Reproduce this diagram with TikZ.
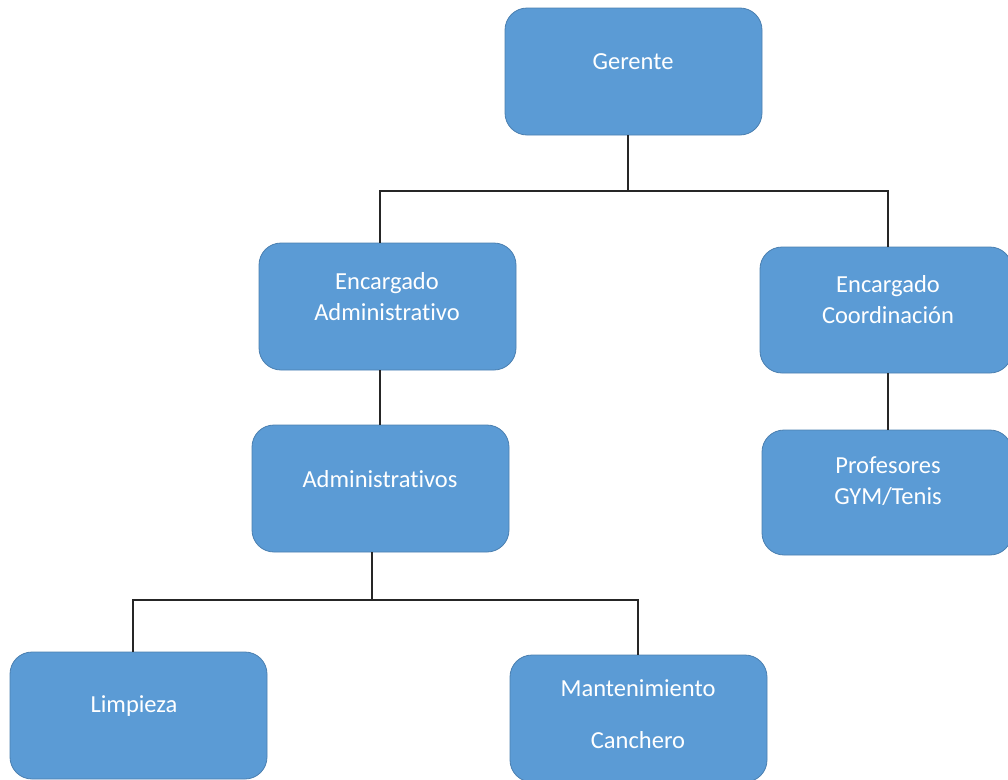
\documentclass[tikz,border=0pt]{standalone}
\usepackage{fontspec}
\setmainfont{Carlito}[Ligatures=NoCommon]
\definecolor{boxfill}{HTML}{5B9BD5}
\definecolor{boxline}{HTML}{4A7FB0}
\begin{document}
\begin{tikzpicture}[x=1pt,y=-1pt,
  box/.style={draw=boxline, fill=boxfill, rounded corners=22pt, minimum width=257pt, minimum height=127pt, inner sep=0pt, line width=0.8pt},
  lbl/.style={text=white, font=\fontsize{24.5}{31}\selectfont, align=center, inner sep=0pt},
  conn/.style={draw=black!85, line width=1.4pt}]
\useasboundingbox (0,0) rectangle (1008,779);
% boxes
\node[box] (ger) at (633.5,71.5) {};
\node[box] (ea) at (387.5,306.5) {};
\node[box, minimum width=252pt, minimum height=126pt] (ec) at (886,310) {};
\node[box] (adm) at (380.5,488.5) {};
\node[box, minimum width=250pt, minimum height=125pt] (prof) at (887,492.5) {};
\node[box] (limp) at (138.5,715.5) {};
\node[box] (mant) at (638.5,718.5) {};
% labels
\node[lbl] (gert) at (633,62) {Gerente};
\node[lbl] (eat) at (387,297) {Encargado\\Administrativo};
\node[lbl] (ect) at (888,300) {Encargado\\Coordinación};
\node[lbl] (admt) at (380,479) {Administrativos};
\node[lbl] (proft) at (888,481) {Profesores\\GYM/Tenis};
\node[lbl] (limpt) at (134,706) {Limpieza};
\node[lbl, font=\fontsize{24.5}{52}\selectfont] (mantt) at (638,714) {Mantenimiento\\Canchero};
% junctions
\coordinate (j1) at (628,191);
\coordinate (j2) at (372,600);
% connectors
\draw[conn] (ger.south -| j1) -- (j1);
\draw[conn] (ea.north -| 380,0) |- (j1) -| (ec.north -| 888,0);
\draw[conn] (ea.south -| 380,0) -- (adm.north -| 380,0);
\draw[conn] (ec.south -| 888,0) -- (prof.north -| 888,0);
\draw[conn] (adm.south -| j2) -- (j2);
\draw[conn] (limp.north -| 133,0) |- (j2) -| (mant.north -| 638,0);
\end{tikzpicture}
\end{document}
